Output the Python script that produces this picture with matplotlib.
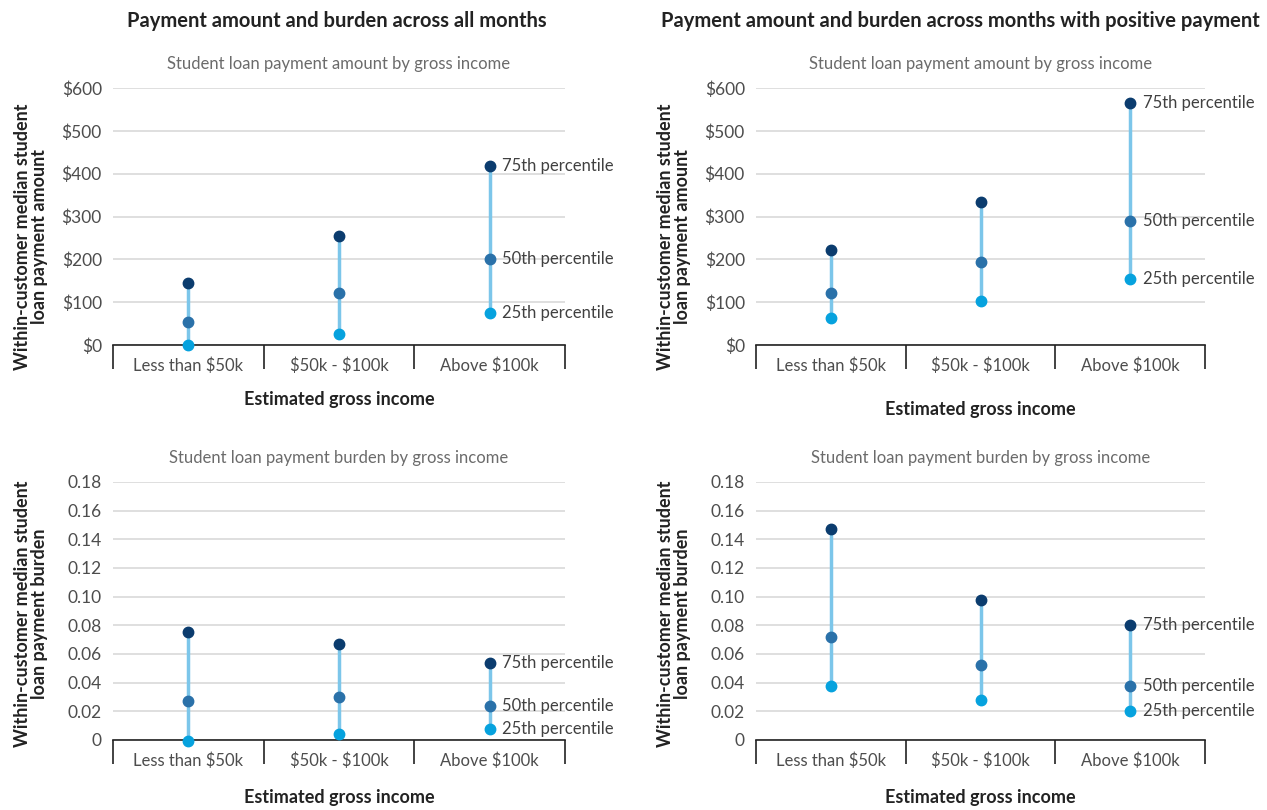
import matplotlib.pyplot as plt
import numpy as np
from matplotlib.ticker import FuncFormatter

plt.rcParams['font.family'] = ['Lato', 'DejaVu Sans']
plt.rcParams['text.parse_math'] = False

categories = ['Less than $50k', '$50k - $100k', 'Above $100k']
pct_labels = ['75th percentile', '50th percentile', '25th percentile']

# payment amount, all months
amt_all_p75 = [145, 255, 417]
amt_all_p50 = [54, 121, 201]
amt_all_p25 = [0, 26, 75]
# payment amount, positive-payment months
amt_pos_p75 = [222, 334, 565]
amt_pos_p50 = [121, 194, 290]
amt_pos_p25 = [63, 103, 153]
# payment burden, all months
bur_all_p75 = [0.0755, 0.067, 0.054]
bur_all_p50 = [0.0275, 0.030, 0.024]
bur_all_p25 = [-0.0005, 0.004, 0.0077]
# payment burden, positive-payment months
bur_pos_p75 = [0.147, 0.098, 0.080]
bur_pos_p50 = [0.072, 0.052, 0.038]
bur_pos_p25 = [0.038, 0.028, 0.020]

c75 = '#0b3c6e'
c50 = '#2a71a9'
c25 = '#06a2de'
cline = '#7cc6ea'
grid_c = '#d9d9d9'
tick_c = '#4d4d4d'

W, H = 1267, 810
fig = plt.figure(figsize=(W / 100, H / 100), dpi=100)


def box(l, t, r, b):
    return [l / W, 1 - b / H, (r - l) / W, (b - t) / H]


def panel(rect, p75, p50, p25, ymax, step, fmt, subtitle, ylabel, xlab_y, ylab_x, ylab_y):
    ax = fig.add_axes(rect)
    x = np.arange(len(categories))
    ax.vlines(x, p25, p75, color=cline, lw=2.5, zorder=2)
    ax.plot(x, p75, 'o', color=c75, ms=7.5, zorder=3, clip_on=False)
    ax.plot(x, p50, 'o', color=c50, ms=7.5, zorder=3, clip_on=False)
    ax.plot(x, p25, 'o', color=c25, ms=7.5, zorder=3, clip_on=False)
    for v, lab in zip([p75[-1], p50[-1], p25[-1]], pct_labels):
        ax.annotate(lab, (x[-1], v), xytext=(9, 0), textcoords='offset points',
                    va='center', ha='left', fontsize=12, color='#404040')
    ax.set_xlim(-0.5, 2.5)
    ax.set_ylim(0, ymax)
    ax.set_yticks(np.arange(0, ymax + step / 2, step))
    ax.yaxis.set_major_formatter(FuncFormatter(fmt))
    ax.grid(axis='y', color=grid_c, lw=1.2)
    ax.set_axisbelow(True)
    for s in ['left', 'right', 'top']:
        ax.spines[s].set_visible(False)
    ax.spines['bottom'].set_color('#222222')
    ax.spines['bottom'].set_linewidth(1.2)
    ax.tick_params(axis='y', length=0, labelsize=12.5, labelcolor=tick_c, pad=8)
    ax.set_xticks(x)
    ax.set_xticklabels(categories)
    ax.tick_params(axis='x', which='major', length=0, labelsize=12, labelcolor=tick_c, pad=9)
    ax.set_xticks([-0.5, 0.5, 1.5, 2.5], minor=True)
    ax.tick_params(axis='x', which='minor', length=17, width=1.2, color='#222222')
    ax.set_title(subtitle, fontsize=12, color='#6b6b6b', pad=14)
    bb = ax.get_position()
    cx = bb.x0 + bb.width / 2
    fig.text(cx, 1 - xlab_y / H, 'Estimated gross income', ha='center', va='center',
             fontsize=13, fontweight='bold', color='#222222')
    fig.text(ylab_x / W, 1 - ylab_y / H, ylabel, ha='center', va='center',
             rotation=90, fontsize=13, fontweight='bold', color='#222222',
             linespacing=1.0)
    return ax


dollar = lambda v, p: '${:,.0f}'.format(v)
dec = lambda v, p: '0' if abs(v) < 1e-9 else '{:.2f}'.format(v)

ylab_amt = 'Within-customer median student\nloan payment amount'
ylab_bur = 'Within-customer median student\nloan payment burden'

panel(box(113, 88, 565, 345), amt_all_p75, amt_all_p50, amt_all_p25, 600, 100, dollar,
      'Student loan payment amount by gross income', ylab_amt, 399, 31, 237)
panel(box(756, 88, 1205, 345), amt_pos_p75, amt_pos_p50, amt_pos_p25, 600, 100, dollar,
      'Student loan payment amount by gross income', ylab_amt, 409, 674, 237)
panel(box(113, 482, 565, 740), bur_all_p75, bur_all_p50, bur_all_p25, 0.18, 0.02, dec,
      'Student loan payment burden by gross income', ylab_bur, 797, 31, 614)
panel(box(756, 482, 1205, 740), bur_pos_p75, bur_pos_p50, bur_pos_p25, 0.18, 0.02, dec,
      'Student loan payment burden by gross income', ylab_bur, 797, 674, 614)

fig.text(337 / W, 1 - 21 / H, 'Payment amount and burden across all months', ha='center',
         va='center', fontsize=14.5, fontweight='bold', color='#222222')
fig.text(960 / W, 1 - 21 / H, 'Payment amount and burden across months with positive payment',
         ha='center', va='center', fontsize=14.5, fontweight='bold', color='#222222')

fig.savefig('out.png', dpi=100)
